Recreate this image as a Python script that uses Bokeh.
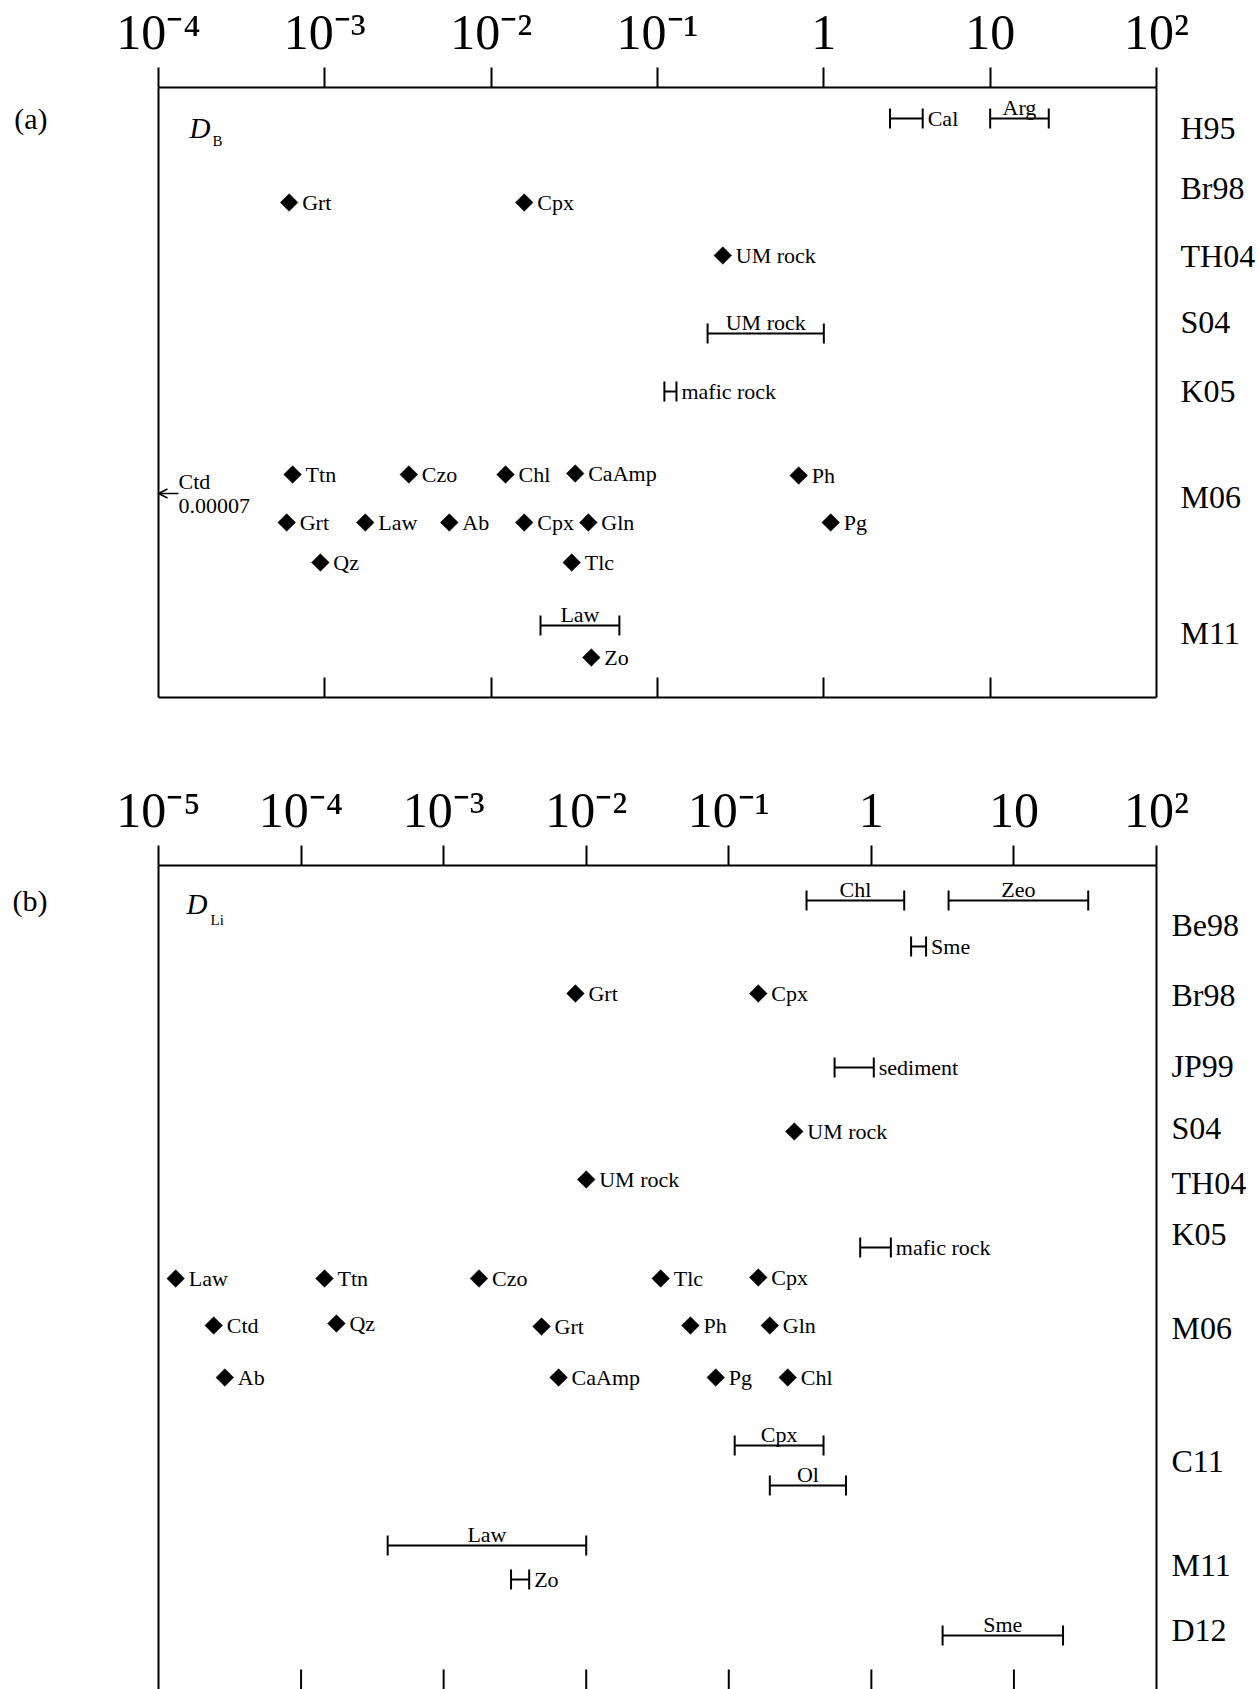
import math

from bokeh.core.properties import value
from bokeh.embed import file_html
from bokeh.layouts import column
from bokeh.models import (Arrow, FixedTicker, Label, LinearAxis, LogAxis,
                          OpenHead, Range1d)
from bokeh.plotting import figure
from bokeh.resources import INLINE

SERIF = "Liberation Serif"

# ---------------- panel (a): boron partition coefficients D_B ----------------
A_TICKS = [1e-4, 1e-3, 1e-2, 1e-1, 1, 10, 100]
A_TICK_LABELS = ["10⁻⁴", "10⁻³", "10⁻²", "10⁻¹", "1", "10", "10²"]

A_STUDIES = ["H95", "Br98", "TH04", "S04", "K05", "M06", "M11"]
A_STUDY_ROW = [4.0, 10.0, 16.8, 23.4, 30.3, 40.9, 54.5]

# single-valued D (diamonds)
A_PT_MINERAL = ["Grt", "Cpx", "UM rock",
                "Ttn", "Czo", "Chl", "CaAmp", "Ph",
                "Grt", "Law", "Ab", "Cpx", "Gln", "Pg",
                "Qz", "Tlc", "Zo"]
A_PT_D = [6.1e-4, 0.0158, 0.247,
          6.4e-4, 3.2e-3, 0.0122, 0.032, 0.706,
          5.9e-4, 1.75e-3, 5.6e-3, 0.0158, 0.0384, 1.1,
          9.4e-4, 0.0305, 0.040]
A_PT_ROW = [11.5, 11.5, 16.8,
            38.7, 38.7, 38.7, 38.6, 38.8,
            43.5, 43.5, 43.5, 43.5, 43.5, 43.5,
            47.5, 47.5, 57.0]

# D ranges (bars with end caps)
A_RG_MINERAL = ["Cal", "Arg", "UM rock", "mafic rock", "Law"]
A_RG_LO = [2.5, 10.0, 0.2, 0.11, 0.0198]
A_RG_HI = [3.93, 22.5, 1.0, 0.13, 0.059]
A_RG_ROW = [3.1, 3.1, 24.6, 30.4, 53.8]
A_RG_LABEL_AT = ["right", "above", "above", "right", "above"]

# off-scale value (below the axis minimum)
A_OFF_MINERAL = "Ctd"
A_OFF_D = 0.00007
A_OFF_ROW = 40.6

# ---------------- panel (b): lithium partition coefficients D_Li ----------------
B_TICKS = [1e-5, 1e-4, 1e-3, 1e-2, 1e-1, 1, 10, 100]
B_TICK_LABELS = ["10⁻⁵", "10⁻⁴", "10⁻³", "10⁻²", "10⁻¹", "1", "10", "10²"]

B_STUDIES = ["Be98", "Br98", "JP99", "S04", "TH04", "K05", "M06", "C11", "M11", "D12"]
B_STUDY_ROW = [5.9, 12.9, 20.0, 26.2, 31.7, 36.8, 46.2, 59.5, 69.9, 76.4]

B_PT_MINERAL = ["Grt", "Cpx", "UM rock", "UM rock",
                "Law", "Ttn", "Czo", "Tlc", "Cpx",
                "Ctd", "Qz", "Grt", "Ph", "Gln",
                "Ab", "CaAmp", "Pg", "Chl"]
B_PT_D = [8.4e-3, 0.161, 0.288, 0.010,
          1.32e-5, 1.46e-4, 1.77e-3, 0.0333, 0.161,
          2.44e-5, 1.77e-4, 4.86e-3, 0.0538, 0.194,
          2.92e-5, 6.4e-3, 0.081, 0.259]
B_PT_ROW = [12.8, 12.8, 26.6, 31.4,
            41.3, 41.3, 41.3, 41.3, 41.2,
            46.0, 45.8, 46.1, 46.0, 46.0,
            51.2, 51.2, 51.2, 51.2]

B_RG_MINERAL = ["Chl", "Zeo", "Sme", "sediment", "mafic rock",
                "Cpx", "Ol", "Law", "Zo", "Sme"]
B_RG_LO = [0.351, 3.48, 1.90, 0.552, 0.835, 0.110, 0.194, 4.05e-4, 2.97e-3, 3.16]
B_RG_HI = [1.70, 33.2, 2.42, 1.04, 1.37, 0.462, 0.664, 0.010, 3.98e-3, 22.1]
B_RG_ROW = [3.5, 3.5, 8.1, 20.2, 38.2, 58.0, 62.0, 68.0, 71.4, 77.0]
B_RG_LABEL_AT = ["above", "above", "right", "right", "right",
                 "above", "above", "above", "right", "above"]

LABEL_SIZE = "22px"
TICK_LEN = 20
ROW_PX = 10  # pixels per row unit
BORDER_LEFT = 158


def make_panel(ticks, tick_labels, studies, study_rows, n_rows,
               pt_name, pt_d, pt_row, rg_name, rg_lo, rg_hi, rg_row, rg_at,
               panel_tag, tag_row, tag_standoff,
               height, border_top, border_bottom, border_right,
               study_standoff, closed_bottom):
    p = figure(width=1258, height=height, x_axis_type="log",
               x_range=Range1d(ticks[0], ticks[-1]),
               y_range=Range1d(n_rows, 0),
               x_axis_location="above", y_axis_location="right",
               output_backend="svg", toolbar_location=None,
               min_border_top=border_top, min_border_bottom=border_bottom,
               min_border_left=BORDER_LEFT, min_border_right=border_right)
    p.outline_line_color = None
    p.grid.visible = False
    p.background_fill_color = "white"
    p.border_fill_color = "white"

    # decade axis on top
    top = p.above[0]
    top.ticker = FixedTicker(ticks=ticks, minor_ticks=[])
    top.major_label_overrides = dict(zip(ticks, tick_labels))
    top.major_tick_out = TICK_LEN
    top.major_tick_in = 0
    top.minor_tick_out = 0
    top.minor_tick_in = 0
    top.axis_line_width = 2
    top.major_tick_line_width = 2
    top.axis_line_color = "black"
    top.major_tick_line_color = "black"
    top.major_label_text_font = SERIF
    top.major_label_text_font_size = "50px"
    top.major_label_text_color = "black"
    top.major_label_standoff = 8

    # study labels along the right frame
    right = p.right[0]
    right.ticker = FixedTicker(ticks=study_rows, minor_ticks=[])
    right.major_label_overrides = dict(zip(study_rows, studies))
    right.major_tick_in = 0
    right.major_tick_out = 0
    right.minor_tick_in = 0
    right.minor_tick_out = 0
    right.axis_line_width = 2
    right.axis_line_color = "black"
    right.major_label_text_font = SERIF
    right.major_label_text_font_size = "32px"
    right.major_label_text_color = "black"
    right.major_label_standoff = study_standoff

    # left frame line, carrying the panel tag
    left = LinearAxis(ticker=FixedTicker(ticks=[tag_row], minor_ticks=[]),
                      major_label_overrides={tag_row: panel_tag},
                      major_tick_in=0, major_tick_out=0,
                      minor_tick_in=0, minor_tick_out=0,
                      axis_line_width=2, axis_line_color="black",
                      major_label_text_font=SERIF,
                      major_label_text_font_size="30px",
                      major_label_text_color="black",
                      major_label_standoff=tag_standoff)
    p.add_layout(left, "left")

    inner = ticks[1:-1]
    if closed_bottom:
        # inward decade ticks along a closed bottom edge
        bottom = LogAxis(ticker=FixedTicker(ticks=inner, minor_ticks=[]),
                         major_tick_in=TICK_LEN, major_tick_out=0,
                         minor_tick_in=0, minor_tick_out=0,
                         major_tick_line_width=2, major_tick_line_color="black",
                         axis_line_width=2, axis_line_color="black",
                         major_label_text_color=None,
                         major_label_text_font_size="8px",
                         major_label_standoff=0)
        p.add_layout(bottom, "below")
    else:
        # open bottom edge: only the inward decade ticks
        p.segment(x0=inner, x1=inner, y0=[n_rows] * len(inner),
                  y1=[n_rows - TICK_LEN / ROW_PX] * len(inner),
                  line_width=2, line_color="black")

    # single values
    p.scatter(x=pt_d, y=pt_row, marker="square", angle=math.pi / 4, size=12.5,
              fill_color="black", line_color="black", line_width=0.5)
    p.text(x=pt_d, y=pt_row, text=pt_name, x_offset=13,
           text_font=value(SERIF), text_font_size=LABEL_SIZE,
           text_align="left", text_baseline="middle", text_color="black")

    # ranges
    p.segment(x0=rg_lo, y0=rg_row, x1=rg_hi, y1=rg_row,
              line_width=2, line_color="black")
    p.scatter(x=rg_lo + rg_hi, y=rg_row + rg_row, marker="dash",
              angle=math.pi / 2, size=20, line_width=2, line_color="black")

    above = [i for i, s in enumerate(rg_at) if s == "above"]
    side = [i for i, s in enumerate(rg_at) if s == "right"]
    p.text(x=[math.sqrt(rg_lo[i] * rg_hi[i]) for i in above],
           y=[rg_row[i] for i in above],
           text=[rg_name[i] for i in above], y_offset=-11,
           text_font=value(SERIF), text_font_size=LABEL_SIZE,
           text_align="center", text_baseline="middle", text_color="black")
    p.text(x=[rg_hi[i] for i in side], y=[rg_row[i] for i in side],
           text=[rg_name[i] for i in side], x_offset=5,
           text_font=value(SERIF), text_font_size=LABEL_SIZE,
           text_align="left", text_baseline="middle", text_color="black")
    return p


def add_symbol(p, sub, d_xy, sub_xy):
    p.add_layout(Label(x=d_xy[0], y=d_xy[1], x_units="screen", y_units="screen",
                       text="D", text_font=SERIF, text_font_size="29px",
                       text_font_style="italic", text_baseline="middle",
                       text_color="black"))
    p.add_layout(Label(x=sub_xy[0], y=sub_xy[1], x_units="screen", y_units="screen",
                       text=sub, text_font=SERIF, text_font_size="15px",
                       text_baseline="middle", text_color="black"))


# panel (a)
pa = make_panel(A_TICKS, A_TICK_LABELS, A_STUDIES, A_STUDY_ROW, 61.0,
                A_PT_MINERAL, A_PT_D, A_PT_ROW,
                A_RG_MINERAL, A_RG_LO, A_RG_HI, A_RG_ROW, A_RG_LABEL_AT,
                "(a)", 3.05, 111,
                height=760, border_top=87, border_bottom=63, border_right=101,
                study_standoff=24, closed_bottom=True)
add_symbol(pa, "B", (31, 570), (54, 557))

# Ctd lies below the axis minimum: arrow to the frame plus its value
arrow_tail = A_TICKS[0] * 10 ** 0.12
pa.add_layout(Arrow(end=OpenHead(size=9, line_width=1.5, line_color="black"),
                    x_start=arrow_tail, y_start=A_OFF_ROW,
                    x_end=A_TICKS[0], y_end=A_OFF_ROW,
                    line_width=1.5, line_color="black"))
pa.text(x=[arrow_tail, arrow_tail], y=[A_OFF_ROW - 1.2, A_OFF_ROW + 1.2],
        text=[A_OFF_MINERAL, f"{A_OFF_D:.5f}"],
        text_font=value(SERIF), text_font_size=LABEL_SIZE,
        text_align="left", text_baseline="middle", text_color="black")

# panel (b)
pb = make_panel(B_TICKS, B_TICK_LABELS, B_STUDIES, B_STUDY_ROW, 82.4,
                B_PT_MINERAL, B_PT_D, B_PT_ROW,
                B_RG_MINERAL, B_RG_LO, B_RG_HI, B_RG_ROW, B_RG_LABEL_AT,
                "(b)", 3.5, 111,
                height=929, border_top=105, border_bottom=0, border_right=100,
                study_standoff=15, closed_bottom=False)
add_symbol(pb, "Li", (28, 786), (52, 770))

layout = column(pa, pb)
open("out.html", "w").write(file_html(layout, INLINE))
